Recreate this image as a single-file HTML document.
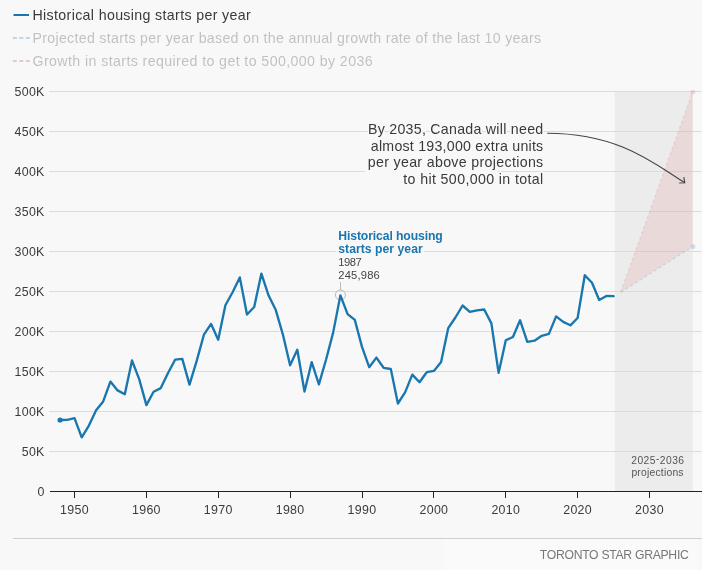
<!DOCTYPE html>
<html><head><meta charset="utf-8"><title>Housing starts</title>
<style>
html,body{margin:0;padding:0;background:#f8f8f8;}
body{width:702px;height:570px;overflow:hidden;position:relative;font-family:"Liberation Sans",sans-serif;}
svg{position:absolute;left:0;top:0;display:block}
svg text{font-family:"Liberation Sans",sans-serif;}
.grid line{stroke:#dbdbdb;stroke-width:1;shape-rendering:crispEdges}
.ylab text{font-size:12.4px;fill:#3b3b3b;text-anchor:end;letter-spacing:0.32px}
.xlab text{font-size:12.4px;fill:#3b3b3b;text-anchor:middle;letter-spacing:0.3px}
.ticks line{stroke:#222;stroke-width:1;shape-rendering:crispEdges}
.leg text{font-size:14.2px;fill:#383b3e}
.halo{paint-order:stroke;stroke:#f8f8f8;stroke-width:3px;stroke-linejoin:round}
</style></head><body>
<svg width="702" height="570" viewBox="0 0 702 570">
<rect x="0" y="0" width="702" height="570" fill="#f8f8f8"/>
<rect x="443.5" y="539" width="254.5" height="31" fill="#fafafa"/>
<g class="leg">
<line x1="13.5" x2="29" y1="15" y2="15" stroke="#1976ae" stroke-width="2"/>
<text x="32.5" y="20" textLength="218.2">Historical housing starts per year</text>
<g opacity="0.29">
<line x1="12.8" x2="29.8" y1="38" y2="38" stroke="#4a7ea6" stroke-width="1.8" stroke-dasharray="4 2.5"/>
<text x="32.5" y="43" textLength="508.5">Projected starts per year based on the annual growth rate of the last 10 years</text>
<line x1="12.8" x2="29.8" y1="61" y2="61" stroke="#b5605c" stroke-width="1.8" stroke-dasharray="4 2.5"/>
<text x="32.5" y="66" textLength="340.1">Growth in starts required to get to 500,000 by 2036</text>
</g>
</g>
<rect x="614.8" y="91" width="77.9" height="400.5" fill="#ececec"/>
<g class="grid"><line x1="48.5" x2="702" y1="91.5" y2="91.5"/><line x1="48.5" x2="702" y1="131.5" y2="131.5"/><line x1="48.5" x2="702" y1="171.5" y2="171.5"/><line x1="48.5" x2="702" y1="211.5" y2="211.5"/><line x1="48.5" x2="702" y1="251.5" y2="251.5"/><line x1="48.5" x2="702" y1="291.5" y2="291.5"/><line x1="48.5" x2="702" y1="331.5" y2="331.5"/><line x1="48.5" x2="702" y1="371.5" y2="371.5"/><line x1="48.5" x2="702" y1="411.5" y2="411.5"/><line x1="48.5" x2="702" y1="451.5" y2="451.5"/></g>
<g class="ylab"><text x="44.7" y="96.0">500K</text><text x="44.7" y="136.0">450K</text><text x="44.7" y="176.0">400K</text><text x="44.7" y="216.0">350K</text><text x="44.7" y="256.0">300K</text><text x="44.7" y="296.0">250K</text><text x="44.7" y="336.0">200K</text><text x="44.7" y="376.0">150K</text><text x="44.7" y="416.0">100K</text><text x="44.7" y="456.0">50K</text><text x="44.7" y="496.0">0</text></g>
<line x1="50" x2="702" y1="491.5" y2="491.5" stroke="#222" stroke-width="1.2"/>
<g class="ticks"><line x1="74.5" x2="74.5" y1="491.5" y2="497.5"/><line x1="146.4" x2="146.4" y1="491.5" y2="497.5"/><line x1="218.2" x2="218.2" y1="491.5" y2="497.5"/><line x1="290.1" x2="290.1" y1="491.5" y2="497.5"/><line x1="362.0" x2="362.0" y1="491.5" y2="497.5"/><line x1="433.9" x2="433.9" y1="491.5" y2="497.5"/><line x1="505.8" x2="505.8" y1="491.5" y2="497.5"/><line x1="577.6" x2="577.6" y1="491.5" y2="497.5"/><line x1="649.5" x2="649.5" y1="491.5" y2="497.5"/></g>
<g class="xlab"><text x="74.5" y="514.1">1950</text><text x="146.4" y="514.1">1960</text><text x="218.2" y="514.1">1970</text><text x="290.1" y="514.1">1980</text><text x="362.0" y="514.1">1990</text><text x="433.9" y="514.1">2000</text><text x="505.8" y="514.1">2010</text><text x="577.6" y="514.1">2020</text><text x="649.5" y="514.1">2030</text></g>
<g opacity="0.3">
<polygon points="620.8,292.2 692.6,92.2 692.6,246.6 620.8,292.2" fill="#d9534f" fill-opacity="0.40" stroke="none"/>
<polyline points="620.8,292.2 692.6,92.2" fill="none" stroke="#c9635f" stroke-opacity="0.6" stroke-width="1.5" stroke-dasharray="3 2.6"/>
<polyline points="620.8,292.2 692.6,246.6" fill="none" stroke="#6a8fb4" stroke-opacity="0.8" stroke-width="1.5" stroke-dasharray="3 2.6"/>
<circle cx="692.8" cy="92.2" r="2.5" fill="#c9635f" fill-opacity="0.7"/>
<circle cx="692.8" cy="246.6" r="2.5" fill="#6a8fb4" fill-opacity="0.9"/>
</g>
<polyline points="60.1,420.0 67.3,419.8 74.5,418.2 81.7,437.3 88.9,425.6 96.1,410.3 103.2,401.4 110.4,381.6 117.6,390.4 124.8,394.3 132.0,360.5 139.2,379.1 146.4,405.1 153.6,391.7 160.8,388.1 167.9,373.3 175.1,359.7 182.3,358.9 189.5,384.6 196.7,360.9 203.9,334.7 211.1,323.9 218.2,339.8 225.4,305.3 232.6,292.3 239.8,277.4 247.0,314.5 254.2,307.0 261.4,273.6 268.6,295.6 275.8,310.1 282.9,334.6 290.1,365.3 297.3,349.8 304.5,391.5 311.7,362.1 318.9,384.3 326.1,359.5 333.2,332.4 340.4,295.4 347.6,314.2 354.8,319.9 362.0,346.9 369.2,367.2 376.4,357.6 383.6,367.8 390.8,369.0 397.9,403.5 405.1,392.4 412.3,374.6 419.5,382.2 426.7,372.2 433.9,370.9 441.1,362.0 448.2,328.2 455.4,317.5 462.6,305.5 469.8,311.8 477.0,310.3 484.2,309.5 491.4,323.4 498.6,372.9 505.8,340.3 512.9,337.0 520.1,320.3 527.3,341.9 534.5,340.7 541.7,335.8 548.9,333.9 556.1,316.4 563.2,321.9 570.4,325.3 577.6,318.0 584.8,275.2 592.0,282.7 599.2,300.0 606.4,295.9 613.6,296.2" fill="none" stroke="#f8f8f8" stroke-opacity="0.75" stroke-width="4.6" stroke-linejoin="round" stroke-linecap="round"/>
<line x1="340.5" x2="340.5" y1="282" y2="290" stroke="#bcbcbc" stroke-width="1"/>
<circle cx="340.4" cy="295" r="5" fill="none" stroke="#bcbcbc" stroke-width="1"/>
<polyline points="60.1,420.0 67.3,419.8 74.5,418.2 81.7,437.3 88.9,425.6 96.1,410.3 103.2,401.4 110.4,381.6 117.6,390.4 124.8,394.3 132.0,360.5 139.2,379.1 146.4,405.1 153.6,391.7 160.8,388.1 167.9,373.3 175.1,359.7 182.3,358.9 189.5,384.6 196.7,360.9 203.9,334.7 211.1,323.9 218.2,339.8 225.4,305.3 232.6,292.3 239.8,277.4 247.0,314.5 254.2,307.0 261.4,273.6 268.6,295.6 275.8,310.1 282.9,334.6 290.1,365.3 297.3,349.8 304.5,391.5 311.7,362.1 318.9,384.3 326.1,359.5 333.2,332.4 340.4,295.4 347.6,314.2 354.8,319.9 362.0,346.9 369.2,367.2 376.4,357.6 383.6,367.8 390.8,369.0 397.9,403.5 405.1,392.4 412.3,374.6 419.5,382.2 426.7,372.2 433.9,370.9 441.1,362.0 448.2,328.2 455.4,317.5 462.6,305.5 469.8,311.8 477.0,310.3 484.2,309.5 491.4,323.4 498.6,372.9 505.8,340.3 512.9,337.0 520.1,320.3 527.3,341.9 534.5,340.7 541.7,335.8 548.9,333.9 556.1,316.4 563.2,321.9 570.4,325.3 577.6,318.0 584.8,275.2 592.0,282.7 599.2,300.0 606.4,295.9 613.6,296.2" fill="none" stroke="#1976ae" stroke-width="2.35" stroke-linejoin="round" stroke-linecap="round"/>
<circle cx="60.1" cy="420.0" r="2.6" fill="#1976ae"/>
<g font-size="10.3px" fill="#555" text-anchor="start">
<text x="631.2" y="464" textLength="52.9">2025<tspan dy="-2.2">-</tspan><tspan dy="2.2">2036</tspan></text>
<text x="631.4" y="475.6" textLength="52.1">projections</text>
</g>
<rect x="365" y="170.5" width="133" height="2" fill="#f8f8f8"/>
<g font-size="14.2px" fill="#f8f8f8" stroke="#f8f8f8" stroke-width="3" stroke-linejoin="round">
<text x="368" y="134.2" textLength="175.2">By 2035, Canada will need</text>
<text x="370.8" y="150.7" textLength="172.4">almost 193,000 extra units</text>
<text x="367.7" y="167.1" textLength="175.5">per year above projections</text>
<text x="403.3" y="183.6" textLength="139.9">to hit 500,000 in total</text>
</g>
<g font-size="14.2px" fill="#383b3e">
<text x="368" y="134.2" textLength="175.2">By 2035, Canada will need</text>
<text x="370.8" y="150.7" textLength="172.4">almost 193,000 extra units</text>
<text x="367.7" y="167.1" textLength="175.5">per year above projections</text>
<text x="403.3" y="183.6" textLength="139.9">to hit 500,000 in total</text>
</g>
<path d="M547.2,133.2 C623.2,133.2 659.7,168.2 684.8,182.7" fill="none" stroke="#444" stroke-width="1.1"/>
<path d="M683.8,177.1 L684.8,182.8 L679.2,183" fill="none" stroke="#444" stroke-width="1.1"/>
<rect x="338" y="250.5" width="86" height="2" fill="#f8f8f8"/>
<g fill="#f8f8f8" stroke="#f8f8f8" stroke-width="5" stroke-linejoin="round">
<text x="338.3" y="240" font-size="12.2px" font-weight="bold"  textLength="104.4">Historical housing</text>
<text x="338.3" y="252.6" font-size="12.2px" font-weight="bold"  textLength="84.4">starts per year</text>
<text x="338.3" y="265.6" font-size="11.2px"  textLength="23.5">1987</text>
<text x="338.3" y="278.9" font-size="11.2px"  textLength="41.5">245,986</text>
</g>
<g>
<text x="338.3" y="240" font-size="12.2px" font-weight="bold" fill="#1976ae" textLength="104.4">Historical housing</text>
<text x="338.3" y="252.6" font-size="12.2px" font-weight="bold" fill="#1976ae" textLength="84.4">starts per year</text>
<text x="338.3" y="265.6" font-size="11.2px" fill="#444" textLength="23.5">1987</text>
<text x="338.3" y="278.9" font-size="11.2px" fill="#444" textLength="41.5">245,986</text>
</g>
<line x1="13" x2="702" y1="538.5" y2="538.5" stroke="#cfcfcf" stroke-width="1" shape-rendering="crispEdges"/>
<text x="539.8" y="559.1" font-size="12.2px" fill="#777" textLength="149">TORONTO STAR GRAPHIC</text>
</svg>
</body></html>
